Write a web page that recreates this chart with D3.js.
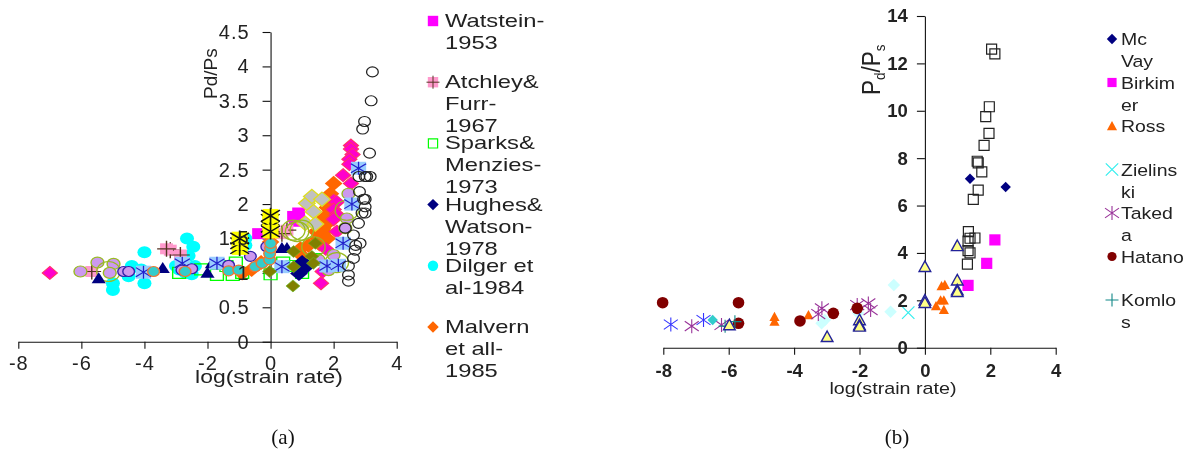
<!DOCTYPE html>
<html><head><meta charset="utf-8">
<script src="https://cdn.jsdelivr.net/npm/d3@7"></script>
<style>
html,body{margin:0;padding:0;background:#fff;overflow:hidden}
svg{display:block;font-family:"Liberation Sans",Arial,sans-serif;filter:blur(.5px)}
</style></head><body><svg id="c" width="1190" height="454"></svg>
<script>
// ---------- chart (a) values: [log strain rate, Pd/Ps]
const dilger=[[-5,.75],[-5,.85],[-4.5,.95],[-4.4,1.1],[-4,1.3],[-4,.85],[-4.1,1.05],[-3,1.1],[-2.65,1.5],[-2.45,1.38],[-2.6,1.25],[-2.4,1.1],[-2.5,.98],[-2.7,1],[-2.9,1.05],[-.8,1.5],[-.8,1.4]];
const sparks=[[-2.9,1],[-2.2,1.05],[-1.7,.97],[-1.2,.97],[-1.1,1.15],[-1.4,1.1],[-.9,1],[0,.98],[.7,1.1],[1,1],[1.4,1.2],[.4,1.15]];
const watstein=[[-.38,1.57],[.73,1.82],[.89,1.87],[.78,1.75]];
const atchley=[[-3.18,1.33],[-2.86,1.26],[-3.3,1.35],[-5.67,1.02],[.52,1.62],[.36,1.57]];
const malvern=[[2,2.3],[1.9,2.15],[1.8,2.05],[1.8,1.95],[1.7,1.8],[1.75,1.7],[1.7,1.6],[1.6,1.55],[1.5,1.5],[1.2,1.4],[1,1.25],[1.1,1.12],[1.9,1.9],[1.65,1.65],[-.6,1.05],[-.3,1.15],[0,1.45],[.95,1.35],[1.55,1.42],[1.85,1.75],[1.95,2.05],[1.45,1.6],[1.8,1.5],[-.9,1]];
const pinkDiamonds=[[-7,1],[2.55,2.85],[2.55,2.8],[2.6,2.72],[2.5,2.65],[2.5,2.58],[2.3,2.42],[2.55,2.3],[2,2.05],[2.1,2.03],[2,1.92],[2.1,1.85],[2,1.78],[2.1,1.6],[1.75,1.35],[1.6,.85],[1.65,1.02]];
const grayDiamonds=[[1.15,2.01],[1.31,2.11],[1.63,2.07],[1.36,1.89],[1.1,1.72],[1.42,1.71]];
const hughes=[[.9,.99],[1,1.15],[1.15,1.1]];
const purpleOlive=[[-6.03,1.02],[-5.49,1.15],[-4.98,1.13],[-5.1,1],[2.47,2.15],[2.42,1.79],[2,1.26],[1.84,1.04],[1.52,1.19],[2.37,1.65]];
const bigOpen=[[-5.14,1.02],[.84,1.6],[.72,1.62],[.99,1.62],[1.36,1.38],[2.42,1.91],[2.1,1.15]];
const navyTriangles=[[-5.45,.92],[-3.42,1.07],[-2,1],[-1.86,1.14],[.36,1.36],[.52,1.36]];
const asterisksA=[[-4.03,1.01],[-2.8,1.14],[-1.7,1.14],[.36,1.09],[1.79,1.1],[2.15,1.11],[2.3,1.43],[2.58,2],[2.79,2.52]];
const purpleNavy=[[-4.66,1.02],[-4.5,1.02],[-2.81,1.04],[-2.5,1.06],[-1.33,1.11],[-.64,1.24],[-.12,1.38]];
const tealOrange=[[-3.71,1.02],[-2.71,1.02],[-1.33,1.03],[-1.01,1.04],[-.49,1.09],[-.27,1.14],[-.03,1.19],[-.03,1.28],[0,1.36],[0,1.43]];
const yellowStars=[[-.98,1.36],[-.98,1.43],[-.98,1.5],[-.01,1.77],[-.01,1.67],[0,1.6],[0,1.83]];
const oliveDiamonds=[[.71,.81],[-.03,1.02],[.73,1.09],[.73,1.31],[1.42,1.43],[1.31,1.24],[1.36,1.14]];
const blackCircles=[[3.23,3.92],[3.19,3.5],[2.98,3.2],[2.92,3.09],[3.14,2.74],[2.8,2.4],[3,2.4],[3.05,2.4],[3.16,2.4],[2.82,2.18],[2.95,2.07],[3,2.07],[3,1.96],[2.9,1.87],[3,1.87],[2.79,1.72],[2.63,1.55],[2.84,1.43],[2.68,1.33],[2.63,1.21],[2.47,1.1],[2.47,.97],[2.47,.88],[2.37,1.65],[2.7,1.4]];
// ---------- chart (b) values
const openSquares=[[2.04,12.6],[2.14,12.4],[1.97,10.17],[1.86,9.75],[1.96,9.05],[1.81,8.54],[1.6,7.87],[1.63,7.8],[1.74,7.42],[1.63,6.65],[1.48,6.26],[1.33,4.9],[1.53,4.63],[1.38,4.62],[1.32,4.5],[1.38,4],[1.32,4.1],[1.3,3.53]];
const mcVay=[[1.38,7.13],[2.47,6.78]];
const birkimer=[[2.14,4.55],[1.89,3.56],[1.32,2.63]];
const ross=[[-4.6,1.3],[-4.6,1.1],[-3.56,1.38],[.34,1.76],[.48,2],[.58,2],[.58,1.6],[.51,2.6],[.61,2.65]];
const zielinski=[[-.51,1.48]];
const paleDiamonds=[[-.95,2.65],[-1.05,1.52],[-2.04,1.45],[-3.06,1.17],[-3.16,1.03]];
const takeda=[[-7.13,.91],[-6.22,.96],[-3.26,1.42],[-3.15,1.66],[-2.07,1.8],[-1.73,1.87],[-1.66,1.59]];
const hatano=[[-8.02,1.9],[-5.7,1.9],[-5.7,1.03],[-3.82,1.13],[-2.8,1.45],[-2.07,1.66]];
const komlos=[[-6.11,.91],[-5.81,1.1]];
const blueStars=[[-7.77,.98],[-6.77,1.17]];
const tealDiamonds=[[-6.49,1.17]];
const yellowTriangles=[[-5.98,.96],[-2.99,.46],[-2,1.17],[-2,.96],[-2,.9],[0,3.42],[0,2],[0,1.9],[.99,4.3],[.99,2.85],[.99,2.43],[.99,2.36]];
// ---------- tick labels and legends
const xTicks=[-8,-6,-4,-2,0,2,4];
const yTicksA=[0,.5,1,1.5,2,2.5,3,3.5,4,4.5];
const yTicksB=[0,2,4,6,8,10,12,14];
const legendA=[["Watstein-","1953"],["Atchley&","Furr-","1967"],["Sparks&","Menzies-","1973"],["Hughes&","Watson-","1978"],["Dilger et","al-1984"],["Malvern","et all-","1985"]];
const legendB=[["Mc","Vay"],["Birkim","er"],["Ross"],["Zielins","ki"],["Taked","a"],["Hatano"],["Komlo","s"]];

const svg=d3.select("#c");
const INK="#222";
function mark(g,kind,o){
  const r=o.size;
  const pathOf={
    square:`M${-r},${-r}H${r}V${r}H${-r}Z`,
    diamond:`M0,${-r*1.3}L${r*1.3},0L0,${r*1.3}L${-r*1.3},0Z`,
    triangle:`M0,${-r*1.1}L${r*1.1},${r*.9}L${-r*1.1},${r*.9}Z`,
    plus:`M${-r},0H${r}M0,${-r}V${r}`,
    cross:`M${-r},${-r}L${r},${r}M${-r},${r}L${r},${-r}`,
    star:`M${-r},${-r*.7}L${r},${r*.7}M${-r},${r*.7}L${r},${-r*.7}M0,${-r}V${r}`
  };
  if(kind==="circle") g.append("circle").attr("r",r).attr("fill",o.fill||"none").attr("stroke",o.stroke||"none").attr("stroke-width",o.sw||1);
  else g.append("path").attr("d",pathOf[kind]).attr("fill",o.fill||"none").attr("stroke",o.stroke||"none").attr("stroke-width",o.sw||1);
}
function plot(layer,x,y,data,parts,sx){
  const g=layer.append("g").selectAll("g").data(data).join("g")
    .attr("transform",d=>`translate(${x(d[0])},${y(d[1])}) scale(${sx},1)`);
  parts.forEach(p=>g.each(function(){mark(d3.select(this),p.k,p)}));
}
function chart(cfg){
  const x=d3.scaleLinear().domain([-8,4]).range(cfg.xr);
  const y=d3.scaleLinear().domain(cfg.yd).range(cfg.yr);
  const ax=svg.append("g");
  ax.append("g").attr("transform",`translate(0,${y(0)})`)
    .call(d3.axisBottom(x).tickValues(xTicks).tickSize(7).tickSizeOuter(0).tickFormat(""));
  ax.append("g").attr("transform",`translate(${x(0)},0)`)
    .call(d3.axisLeft(y).tickValues(cfg.yt).tickSize(8).tickSizeOuter(0).tickFormat(""));
  ax.selectAll("path,line").attr("stroke","#111").attr("stroke-width",1.1);
  const marks=svg.append("g");
  cfg.series.forEach(s=>plot(marks,x,y,s[0],s[1],cfg.sx));
  const lab=svg.append("g");
  lab.append("g").attr("transform",`translate(0,${y(0)})`)
    .call(d3.axisBottom(x).tickValues(xTicks).tickSize(0).tickPadding(cfg.xp).tickFormat(d=>String(d)));
  lab.append("g").attr("transform",`translate(${x(0)},0)`)
    .call(d3.axisLeft(y).tickValues(cfg.yt).tickSize(0).tickPadding(cfg.yp).tickFormat(d=>String(d)));
  lab.selectAll(".domain").remove();
  lab.selectAll("text").attr("font-family",'"Liberation Sans",Arial,sans-serif')
    .attr("font-size",cfg.tf).attr("font-weight",cfg.tw).attr("fill",INK).attr("letter-spacing",cfg.ls);
  lab.append("text").text("log(strain rate)").attr("transform",`translate(${cfg.xtx},${cfg.xty}) scale(${cfg.xts},1)`)
    .attr("text-anchor","middle").attr("font-size",cfg.xtf).attr("fill",INK);
}
function legend(items,x,tx,y0,y1,keys,fs,sc){
  const py=d3.scalePoint().domain(items.map((_,i)=>i)).range([y0,y1]);
  const g=svg.append("g");
  items.forEach((lines,i)=>{
    lines.forEach((t,j)=>g.append("text").text(t).attr("transform",`translate(${tx},${py(i)+6+j*22}) scale(${sc},1)`)
      .attr("font-size",fs).attr("fill",INK));
    const m=g.append("g").attr("transform",`translate(${x},${py(i)})`);
    keys[i].forEach(p=>mark(m,p.k,p));
  });
}
const S={
  dil:[{k:"circle",size:6,fill:"#00ffff"}],
  spa:[{k:"square",size:5.5,stroke:"#00ff00",sw:1.2}],
  wat:[{k:"square",size:5.5,fill:"#ff00ff"}],
  atc:[{k:"square",size:5.5,fill:"#ff99cc"},{k:"plus",size:8,stroke:"#553322",sw:1.2}],
  mal:[{k:"diamond",size:5.8,fill:"#ff6600"}],
  pin:[{k:"diamond",size:5,fill:"#ff00cc",stroke:"#ff3366",sw:1}],
  gra:[{k:"diamond",size:5.5,fill:"#c0c0c0",stroke:"#dddd22",sw:1.2}],
  hug:[{k:"diamond",size:5.8,fill:"#000080"}],
  pur:[{k:"circle",size:5.5,fill:"#cc99ee",stroke:"#99bb22",sw:1.2}],
  big:[{k:"circle",size:10,stroke:"#99bb22",sw:1.2}],
  nav:[{k:"triangle",size:5.5,fill:"#000080"}],
  ast:[{k:"square",size:6.5,fill:"#99ccff"},{k:"star",size:6.5,stroke:"#2222cc",sw:1.1}],
  pna:[{k:"circle",size:5,fill:"#cc99ee",stroke:"#3322aa",sw:1.2}],
  tea:[{k:"circle",size:5,fill:"#33cccc",stroke:"#ee7733",sw:1.2}],
  yel:[{k:"square",size:6.8,fill:"#ffff00"},{k:"star",size:8,stroke:"#111",sw:1.4}],
  oli:[{k:"diamond",size:4.6,fill:"#808000",stroke:"#66bb22",sw:.6}],
  blk:[{k:"circle",size:5,stroke:"#222",sw:1.1}]
};
chart({xr:[18.3,396.7],yd:[0,4.5],yr:[341.7,32],yt:yTicksA,xp:14,yp:21,tf:20,tw:"normal",ls:1,sx:1.17,
  xtx:269,xty:383,xtf:18.5,xts:1.24,
  series:[[dilger,S.dil],[sparks,S.spa],[watstein,S.wat],[atchley,S.atc],[malvern,S.mal],[pinkDiamonds,S.pin],[grayDiamonds,S.gra],
    [hughes,S.hug],[purpleOlive,S.pur],[bigOpen,S.big],[navyTriangles,S.nav],[asterisksA,S.ast],[purpleNavy,S.pna],[tealOrange,S.tea],
    [yellowStars,S.yel],[oliveDiamonds,S.oli],[blackCircles,S.blk]]});
const T={
  sq:[{k:"square",size:5,stroke:"#222",sw:1.2}],
  mc:[{k:"diamond",size:4,fill:"#000080"}],
  bi:[{k:"square",size:5.6,fill:"#ff00ff"}],
  ro:[{k:"triangle",size:4.6,fill:"#ff6600"}],
  zi:[{k:"cross",size:6.2,stroke:"#33eeee",sw:1.2}],
  pa:[{k:"diamond",size:4.8,fill:"#ccffff"}],
  ta:[{k:"star",size:7,stroke:"#993399",sw:1.1}],
  ha:[{k:"circle",size:5.8,fill:"#800000"}],
  ko:[{k:"plus",size:6.5,stroke:"#118888",sw:1.1}],
  bl:[{k:"star",size:7,stroke:"#3333ff",sw:1.1}],
  te:[{k:"diamond",size:4,fill:"#33cccc"}],
  ye:[{k:"triangle",size:5.3,fill:"#ffff88",stroke:"#222299",sw:1.4}]
};
chart({xr:[663.3,1055.7],yd:[0,14],yr:[347.7,16],yt:yTicksB,xp:16,yp:17,tf:18.5,tw:"bold",ls:0,sx:1,
  xtx:893,xty:394,xtf:17,xts:1.16,
  series:[[openSquares,T.sq],[mcVay,T.mc],[birkimer,T.bi],[ross,T.ro],[zielinski,T.zi],[paleDiamonds,T.pa],[takeda,T.ta],[hatano,T.ha],
    [komlos,T.ko],[blueStars,T.bl],[tealDiamonds,T.te],[yellowTriangles,T.ye]]});
// y titles
svg.append("text").attr("transform","translate(217,99) rotate(-90)").text("Pd/Ps").attr("font-size",19).attr("fill",INK);
const yb=svg.append("text").attr("transform","translate(880,95) rotate(-90) scale(.9,1)").attr("font-size",25).attr("fill",INK);
yb.append("tspan").text("P");
yb.append("tspan").text("d").attr("font-size",15).attr("dy",5);
yb.append("tspan").text("/P").attr("dy",-5);
yb.append("tspan").text("s").attr("font-size",15).attr("dy",5);
// legends
legend(legendA,433,445,21,327,[[{k:"square",size:5.2,fill:"#ff00ff"}],[{k:"square",size:5.2,fill:"#ff99cc"},{k:"plus",size:6.5,stroke:"#553322",sw:1}],
  [{k:"square",size:4.6,stroke:"#00ff00",sw:1.2}],[{k:"diamond",size:4.4,fill:"#000080"}],[{k:"circle",size:5.2,fill:"#00ffff"}],[{k:"diamond",size:4.4,fill:"#ff6600"}]],19,1.25);
legend(legendB,1112,1121,39,300,[T.mc,[{k:"square",size:4.6,fill:"#ff00ff"}],T.ro,T.zi,T.ta,[{k:"circle",size:4.6,fill:"#800000"}],T.ko],16.5,1.18);
// panel captions
[["(a)",283],["(b)",897]].forEach(c=>svg.append("text").text(c[0]).attr("x",c[1]).attr("y",444)
  .attr("text-anchor","middle").attr("font-family",'"Liberation Serif",serif').attr("font-size",21).attr("fill","#111"));
</script></body></html>
